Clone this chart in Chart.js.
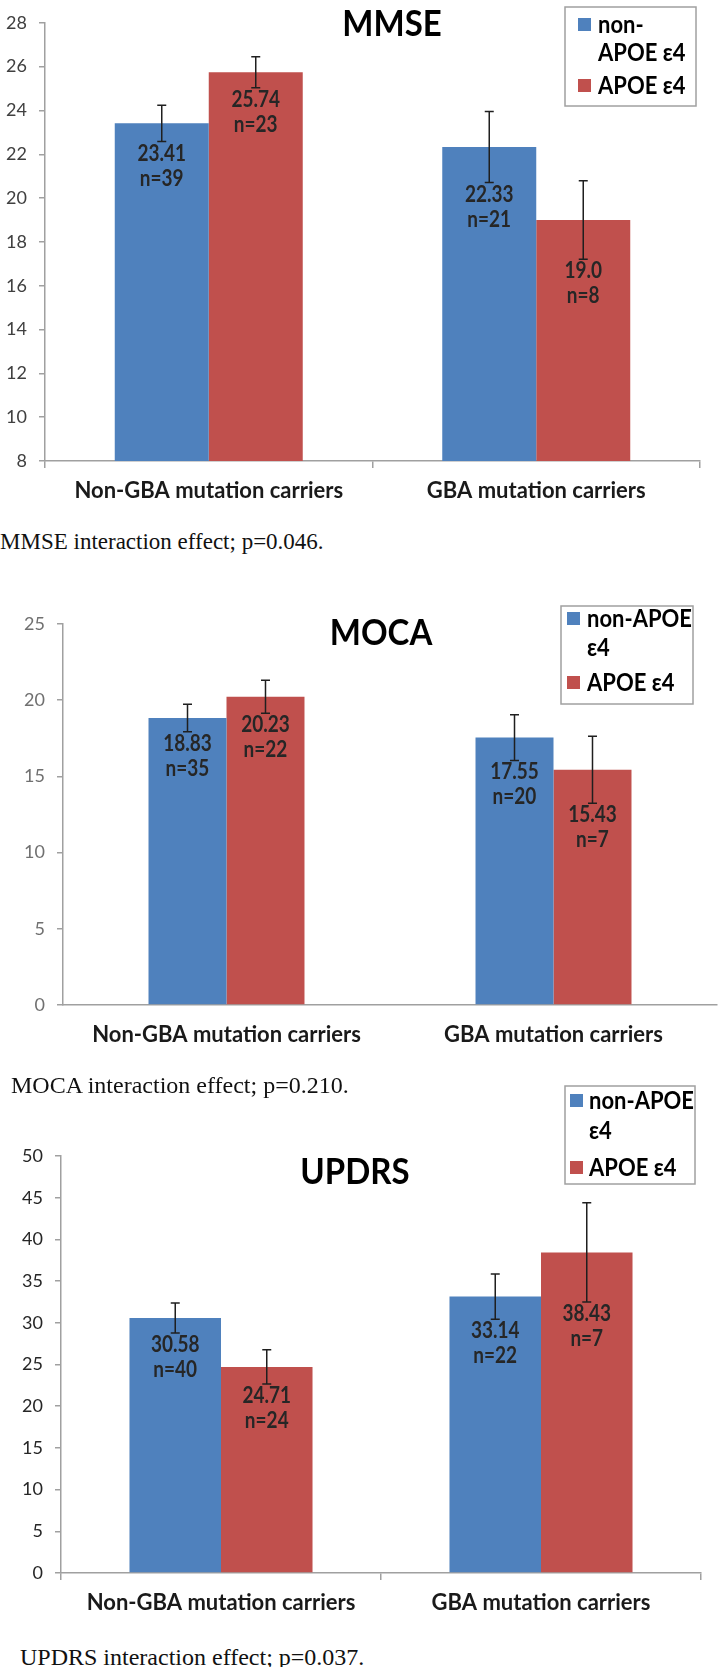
<!DOCTYPE html>
<html>
<head>
<meta charset="utf-8">
<script src="https://cdn.jsdelivr.net/npm/chart.js@4.4.0/dist/chart.umd.min.js"></script>
<style>
  body { margin: 0; width: 718px; height: 1667px; background: #fff; position: relative; overflow: hidden; }
  canvas { position: absolute; left: 0; }
  .cap { position: absolute; font-family: "Liberation Serif", "Times New Roman", serif; color: #111; white-space: nowrap; line-height: 1; }
</style>
</head>
<body>
<canvas id="chartMMSE" width="718" height="520" style="top:0"></canvas>
<canvas id="chartMOCA" width="718" height="500" style="top:560px"></canvas>
<canvas id="chartUPDRS" width="718" height="560" style="top:1080px"></canvas>
<div class="cap" style="left:0;top:530px;font-size:23px">MMSE interaction effect; p=0.046.</div>
<div class="cap" style="left:11px;top:1073px;font-size:24px">MOCA interaction effect; p=0.210.</div>
<div class="cap" style="left:20px;top:1645px;font-size:24px">UPDRS interaction effect; p=0.037.</div>
<script>
// groups and series
const groups = ['Non-GBA mutation carriers', 'GBA mutation carriers'];
const seriesNames = ['non-APOE ε4', 'APOE ε4'];
const seriesColors = ['#4F81BD', '#C0504D'];

// MMSE
const mmseNonApoe = [23.41, 22.33];
const mmseApoe = [25.74, 19.0];
const mmseNonApoeErr = [0.83, 1.62];
const mmseApoeErr = [0.71, 1.79];
const mmseNonApoeN = [39, 21];
const mmseApoeN = [23, 8];

// MOCA
const mocaNonApoe = [18.83, 17.55];
const mocaApoe = [20.23, 15.43];
const mocaNonApoeErr = [0.9, 1.5];
const mocaApoeErr = [1.08, 2.2];
const mocaNonApoeN = [35, 20];
const mocaApoeN = [22, 7];

// UPDRS
const updrsNonApoe = [30.58, 33.14];
const updrsApoe = [24.71, 38.43];
const updrsNonApoeErr = [1.8, 2.7];
const updrsApoeErr = [2.05, 5.95];
const updrsNonApoeN = [40, 22];
const updrsApoeN = [24, 7];

const AXIS = '#a0a0a0';
const fmt = v => Number.isInteger(v) ? v.toFixed(1) : String(v);

// text drawn a little taller, like the condensed original
function tallText(ctx, text, x, y, sy) {
  ctx.save();
  ctx.translate(x, y);
  ctx.scale(1, sy);
  ctx.fillText(text, 0, 0);
  ctx.restore();
}

// error bars, value labels, title and the boxed legend
const extrasPlugin = {
  id: 'extras',
  afterDatasetsDraw(chart) {
    const ctx = chart.ctx, y = chart.scales.y;
    chart.data.datasets.forEach((ds, di) => {
      chart.getDatasetMeta(di).data.forEach((bar, i) => {
        const v = ds.data[i], e = ds.errors[i];
        const top = y.getPixelForValue(v + e), bot = y.getPixelForValue(v - e);
        ctx.save();
        ctx.strokeStyle = '#1f1f1f';
        ctx.lineWidth = 1.5;
        ctx.beginPath();
        ctx.moveTo(bar.x, top); ctx.lineTo(bar.x, bot);
        ctx.moveTo(bar.x - 4.5, top); ctx.lineTo(bar.x + 4.5, top);
        ctx.moveTo(bar.x - 4.5, bot); ctx.lineTo(bar.x + 4.5, bot);
        ctx.stroke();
        ctx.fillStyle = '#262626';
        ctx.font = 'bold 19px Lato';
        ctx.textAlign = 'center';
        ctx.textBaseline = 'middle';
        tallText(ctx, fmt(v), bar.x, bot + 12, 1.15);
        tallText(ctx, 'n=' + ds.counts[i], bar.x, bot + 37, 1.15);
        ctx.restore();
      });
    });
  },
  afterDraw(chart, args, opts) {
    const ctx = chart.ctx;
    ctx.save();
    // title
    ctx.fillStyle = '#000';
    ctx.font = 'bold 33px Lato';
    ctx.textAlign = 'center';
    ctx.textBaseline = 'middle';
    tallText(ctx, opts.title, opts.titleX, opts.titleY, 1.12);
    // legend
    const lg = opts.legend;
    ctx.strokeStyle = AXIS;
    ctx.lineWidth = 1.5;
    ctx.strokeRect(lg.x, lg.y, lg.w, lg.h);
    ctx.font = 'bold 22px Lato';
    ctx.textAlign = 'left';
    let ly = lg.y0;
    chart.data.datasets.forEach((ds, di) => {
      ctx.fillStyle = ds.backgroundColor;
      ctx.fillRect(lg.sqX, ly - 7, 13, 13);
      ctx.fillStyle = '#000';
      lg.lines[di].forEach((t, k) => tallText(ctx, t, lg.txtX, ly + k * lg.lh, 1.1));
      ly += (lg.lines[di].length - 1) * lg.lh + lg.gap;
    });
    ctx.restore();
  }
};

function makeChart(id, cfg) {
  return new Chart(document.getElementById(id), {
    type: 'bar',
    data: {
      labels: groups,
      datasets: [
        { label: seriesNames[0], data: cfg.values[0], errors: cfg.errors[0], counts: cfg.counts[0], backgroundColor: seriesColors[0] },
        { label: seriesNames[1], data: cfg.values[1], errors: cfg.errors[1], counts: cfg.counts[1], backgroundColor: seriesColors[1] }
      ]
    },
    options: {
      responsive: false,
      animation: false,
      categoryPercentage: cfg.catPct,
      barPercentage: 1,
      layout: { padding: { top: cfg.padTop, right: cfg.padRight, left: 0, bottom: 0 } },
      plugins: {
        legend: { display: false },
        tooltip: { enabled: false },
        extras: { title: cfg.title, titleX: cfg.titleX, titleY: cfg.titleY, legend: cfg.legend }
      },
      scales: {
        x: {
          grid: { drawOnChartArea: false, drawTicks: cfg.xTicks, tickLength: 7, color: AXIS, lineWidth: 1.5 },
          border: { color: AXIS, width: 1.5 },
          ticks: { font: { family: 'Lato', size: 22, weight: 'bold' }, color: '#1a1a1a', padding: cfg.xTicks ? 10 : 17, maxRotation: 0 },
          afterFit: s => { s.height = cfg.xHeight; }
        },
        y: {
          min: cfg.min, max: cfg.max,
          grid: { drawOnChartArea: false, drawTicks: true, tickLength: 6, color: AXIS, lineWidth: 1.5 },
          border: { color: AXIS, width: 1.5 },
          ticks: { stepSize: cfg.step, font: { family: 'Lato', size: 18 }, color: cfg.tickColor, padding: 12 },
          afterFit: s => { s.width = cfg.yWidth; }
        }
      }
    },
    plugins: [extrasPlugin]
  });
}

makeChart('chartMMSE', {
  values: [mmseNonApoe, mmseApoe], errors: [mmseNonApoeErr, mmseApoeErr], counts: [mmseNonApoeN, mmseApoeN],
  min: 8, max: 28, step: 2, tickColor: '#404040',
  catPct: 0.574, padTop: 7, padRight: 18, yWidth: 45, xHeight: 59, xTicks: true,
  title: 'MMSE', titleX: 392, titleY: 24,
  legend: { x: 565, y: 7, w: 131, h: 99, sqX: 578, txtX: 598, y0: 25, lh: 28, gap: 33, lines: [['non-', 'APOE ε4'], ['APOE ε4']] }
});

makeChart('chartMOCA', {
  values: [mocaNonApoe, mocaApoe], errors: [mocaNonApoeErr, mocaApoeErr], counts: [mocaNonApoeN, mocaApoeN],
  min: 0, max: 25, step: 5, tickColor: '#707070',
  catPct: 0.477, padTop: 64, padRight: 1, yWidth: 63, xHeight: 55, xTicks: false,
  title: 'MOCA', titleX: 381, titleY: 73,
  legend: { x: 561, y: 46, w: 132, h: 98, sqX: 567, txtX: 587, y0: 59, lh: 29, gap: 35, lines: [['non-APOE', 'ε4'], ['APOE ε4']] }
});

makeChart('chartUPDRS', {
  values: [updrsNonApoe, updrsApoe], errors: [updrsNonApoeErr, updrsApoeErr], counts: [updrsNonApoeN, updrsApoeN],
  min: 0, max: 50, step: 5, tickColor: '#262626',
  catPct: 0.572, padTop: 76, padRight: 17, yWidth: 61, xHeight: 67, xTicks: true,
  title: 'UPDRS', titleX: 355, titleY: 92,
  legend: { x: 565, y: 6, w: 130, h: 98, sqX: 570, txtX: 589, y0: 21, lh: 30, gap: 37, lines: [['non-APOE', 'ε4'], ['APOE ε4']] }
});
</script>
</body>
</html>
